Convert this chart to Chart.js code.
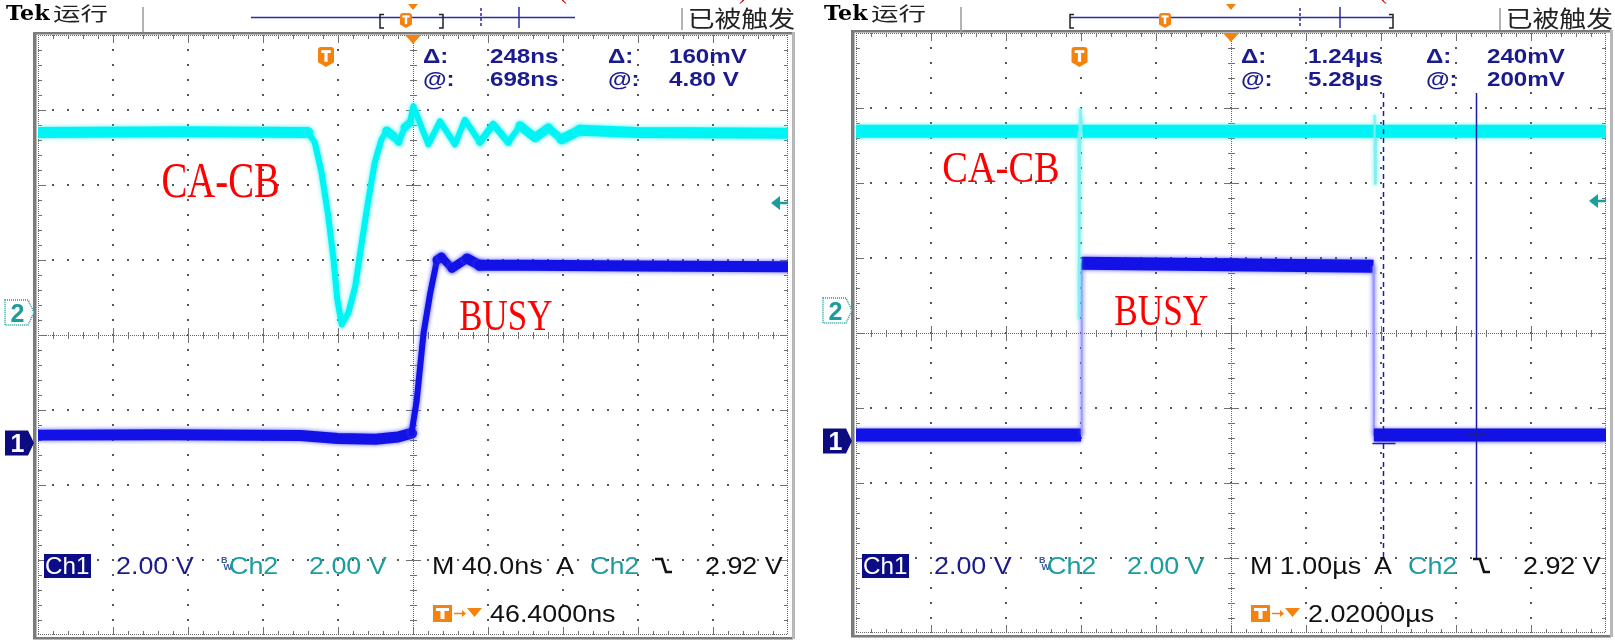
<!DOCTYPE html>
<html>
<head>
<meta charset="utf-8">
<script src="https://cdn.jsdelivr.net/npm/chart.js@4.4.1/dist/chart.umd.min.js"></script>
<style>
  html, body { margin: 0; padding: 0; background: #fff; width: 1615px; height: 641px; overflow: hidden; }
  .panel { position: absolute; top: 0; height: 641px; }
  #left { left: 0; width: 808px; }
  #right { left: 818px; width: 797px; }
</style>
</head>
<body>
<div class="panel" id="left"><canvas id="scopeA" width="808" height="641"></canvas></div>
<div class="panel" id="right"><canvas id="scopeB" width="797" height="641"></canvas></div>
<script>
// ---- values read off the two captures ----
// left capture: time in ns (0 = screen centre), 40 ns/div, volts per channel
const timeA_cacb = [-200, -120, -56, -52.4, -48.8, -45.2, -42.4, -40.4, -38, -34.4, -30.8, -27.6, -24, -20.4, -16.8, -14, -10.4, -7.6, -4.4, -1.6, 0.2, 8.2, 14.4, 22.4, 27.7, 35.7, 42.8, 50.8, 57.1, 65.1, 72.2, 79.3, 89, 120, 200];
const voltA_cacb = [4.80, 4.82, 4.80, 4.54, 3.74, 2.58, 1.42, 0.36, -0.32, 0.00, 0.70, 1.78, 2.94, 4.00, 4.62, 4.84, 4.70, 4.54, 4.94, 5.06, 5.50, 4.48, 5.10, 4.48, 5.14, 4.54, 5.02, 4.54, 4.98, 4.66, 4.92, 4.62, 4.86, 4.80, 4.78];
const timeA_busy = [-200, -130, -60, -40, -20, -8, -0.8, 2.0, 5.6, 9.2, 12.8, 15.2, 20.8, 28.8, 35.6, 60, 120, 200];
const voltA_busy = [0.21, 0.22, 0.20, 0.12, 0.10, 0.16, 0.26, 1.14, 2.92, 4.00, 4.88, 4.96, 4.66, 4.92, 4.74, 4.74, 4.72, 4.70];

// right capture: time in µs (0 = screen centre), 1 µs/div
const timeB_cacb = [-5, -2.05, -2.03, -2.025, -2.01, -1.98, 1.91, 1.915, 1.92, 1.93, 5];
const voltB_cacb = [4.78, 4.78, 4.78, -0.22, 5.38, 4.78, 4.78, 5.20, 3.38, 4.78, 4.78];
const timeB_busy = [-5, -2.0, -1.99, 1.90, 1.905, 5];
const voltB_busy = [0.16, 0.16, 4.74, 4.66, 0.16, 0.16];

// screen settings
const voltsPerDiv = 2;
const ch1Ground = -1.44;   // divisions from centre
const ch2Ground = 0.30;
const trigLevel = 2.92;    // V on Ch2
const trigTimeA = -46.4;   // ns
const trigTimeB = -2.02;   // µs
const cursorB = [4.04, 5.28];      // µs after trigger
const cursorLevelB = [-0.04, 0.20]; // V on Ch1

const readoutA = [['Δ:', '248ns', 'Δ:', '160mV'], ['@:', '698ns', '@:', '4.80 V']];
const readoutB = [['Δ:', '1.24µs', 'Δ:', '240mV'], ['@:', '5.28µs', '@:', '200mV']];

const NAVY = '#1b1b8e', TEAL = '#1c9d9d', ORANGE = '#f5820f', GRID = '#555';

function fitText(ctx, s, x0, x1, base, font, color) {
  ctx.save();
  ctx.font = font; ctx.fillStyle = color; ctx.textAlign = 'left'; ctx.textBaseline = 'alphabetic';
  const m = ctx.measureText(s);
  const sx = (x1 - x0) / (m.actualBoundingBoxLeft + m.actualBoundingBoxRight);
  ctx.translate(x0 + m.actualBoundingBoxLeft * sx, base);
  ctx.scale(sx, 1);
  ctx.fillText(s, 0, 0);
  ctx.restore();
}

function text(ctx, s, x, base, font, color, sx) {
  ctx.save();
  ctx.font = font; ctx.fillStyle = color; ctx.textAlign = 'left'; ctx.textBaseline = 'alphabetic';
  ctx.translate(x, base);
  ctx.scale(sx || 1, 1);
  ctx.fillText(s, 0, 0);
  ctx.restore();
}

function seg(ctx, x0, y0, x1, y1) {
  ctx.beginPath(); ctx.moveTo(x0, y0); ctx.lineTo(x1, y1); ctx.stroke();
}

function tShield(ctx, cx, top, w, h) {
  const l = cx - w / 2, r = cx + w / 2, mid = top + h * 0.76;
  ctx.fillStyle = ORANGE;
  ctx.beginPath();
  ctx.moveTo(l, top + 3);
  ctx.quadraticCurveTo(l, top, l + 3, top);
  ctx.lineTo(r - 3, top);
  ctx.quadraticCurveTo(r, top, r, top + 3);
  ctx.lineTo(r, mid); ctx.lineTo(cx, top + h); ctx.lineTo(l, mid);
  ctx.closePath(); ctx.fill();
  ctx.fillStyle = '#fff';
  ctx.fillRect(cx - w * 0.3, top + h * 0.16, w * 0.6, h * 0.14);
  ctx.fillRect(cx - w * 0.1, top + h * 0.16, w * 0.2, h * 0.58);
}

function graticule(chart) {
  const { ctx, chartArea: a, scales: { x, ch1 } } = chart;
  const gx = i => Math.round(x.getPixelForValue(x.min + i * (x.max - x.min) / 50));
  const gy = j => Math.round(ch1.getPixelForValue(ch1.max - j * (ch1.max - ch1.min) / 40));
  const L = gx(0), R = gx(50), T = gy(0), B = gy(40), cx = gx(25), cy = gy(20);
  ctx.save();
  // bezel
  ctx.fillStyle = '#7b7b7b';
  ctx.fillRect(L - 5, T - 3, 3.5, B - T + 7);
  ctx.fillRect(L - 5, T - 3, R - L + 10, 2.5);
  ctx.fillRect(L - 5, B + 2, R - L + 10, 2.5);
  ctx.fillStyle = '#b8b8b8';
  ctx.fillRect(R + 4, T - 3, 3, B - T + 7);
  // dots on the major lines
  ctx.fillStyle = GRID;
  for (let i = 5; i < 50; i += 5) if (i !== 25) for (let j = 1; j < 40; j++) ctx.fillRect(gx(i) - 1, gy(j) - 1, 2, 2);
  for (let j = 5; j < 40; j += 5) if (j !== 20) for (let i = 1; i < 50; i++) ctx.fillRect(gx(i) - 1, gy(j) - 1, 2, 2);
  // fine dotted centre cross and edges
  ctx.strokeStyle = '#666'; ctx.lineWidth = 1; ctx.setLineDash([1, 1]);
  seg(ctx, L, cy + 0.5, R, cy + 0.5);
  seg(ctx, cx + 0.5, T, cx + 0.5, B);
  seg(ctx, L, T + 0.5, R, T + 0.5);
  seg(ctx, L, B - 0.5, R, B - 0.5);
  seg(ctx, L + 0.5, T, L + 0.5, B);
  seg(ctx, R - 0.5, T, R - 0.5, B);
  ctx.setLineDash([]);
  ctx.strokeStyle = '#707070';
  for (let i = 1; i < 50; i++) {
    const p = gx(i) + 0.5, k = i % 5 === 0 ? 7 : 3;
    seg(ctx, p, cy - k, p, cy + k + 1);
    seg(ctx, p, T, p, T + k + 1);
    seg(ctx, p, B - k - 1, p, B);
  }
  for (let j = 1; j < 40; j++) {
    const p = gy(j) + 0.5, k = j % 5 === 0 ? 7 : 3;
    seg(ctx, cx - k, p, cx + k + 1, p);
    seg(ctx, L, p, L + k + 1, p);
    seg(ctx, R - k - 1, p, R, p);
  }
  ctx.restore();
}

function makeScope(cfg) {
  const band = (t, v, axis, color, glow, edge, w) => ({
    data: t.map((ti, i) => ({ x: ti, y: v[i] })),
    yAxisID: axis,
    borderColor: color,
    borderWidth: w,
    borderCapStyle: cfg.cap,
    borderJoinStyle: 'round',
    pointRadius: 0,
    tension: 0,
    clip: 0,
    glow: glow,
    segment: {
      // noise is vertical, so a steep edge looks thin
      borderWidth: c => {
        const dx = Math.abs(c.p1.x - c.p0.x), dy = Math.abs(c.p1.y - c.p0.y);
        return Math.round(Math.max(cfg.minW, w * dx / (Math.hypot(dx, dy) || 1)));
      },
      borderColor: c => {
        const dx = Math.abs(c.p1.x - c.p0.x), dy = Math.abs(c.p1.y - c.p0.y);
        return cfg.lightEdges && dy > 8 * dx ? edge : color;
      }
    }
  });

  const deco = {
    id: 'scopeDeco',
    beforeDatasetsDraw(chart) { graticule(chart); },
    beforeDatasetDraw(chart, args) {
      const ctx = chart.ctx;
      ctx.save();
      ctx.shadowColor = chart.data.datasets[args.index].glow;
      ctx.shadowBlur = 4;
    },
    afterDatasetDraw(chart) { chart.ctx.restore(); },
    afterDatasetsDraw(chart) {
      const { ctx, chartArea: a, scales: { x, ch1, ch2 } } = chart;
      const divX = d => x.getPixelForValue(x.min + d * (x.max - x.min) / 10);
      const divY = d => ch1.getPixelForValue(ch1.max - d * (ch1.max - ch1.min) / 8);
      ctx.save();

      // ---- header ----
      fitText(ctx, 'Tek', 6, 50, 20, 'bold 21px "DejaVu Serif"', '#000');
      fitText(ctx, '运行', 53, 108, 20.5, '19px "Noto Sans CJK SC"', '#222');
      ctx.strokeStyle = '#9a9a9a'; ctx.lineWidth = 1.5;
      seg(ctx, 143, 7, 143, 32);
      seg(ctx, 682, 8, 682, 30);
      fitText(ctx, '已被触发', 690, 795, 26.5, '23px "Noto Sans CJK SC"', '#222');
      const bar = cfg.bar;
      ctx.strokeStyle = '#2a2aa6'; ctx.lineWidth = 1.5;
      seg(ctx, bar.line[0], 17.5, bar.line[1], 17.5);
      ctx.strokeStyle = '#222'; ctx.lineWidth = 1.5;
      ctx.beginPath(); ctx.moveTo(bar.br[0] + 4, 14.5); ctx.lineTo(bar.br[0], 14.5); ctx.lineTo(bar.br[0], 28); ctx.lineTo(bar.br[0] + 4, 28); ctx.stroke();
      ctx.beginPath(); ctx.moveTo(bar.br[1] - 4, 14.5); ctx.lineTo(bar.br[1], 14.5); ctx.lineTo(bar.br[1], 28); ctx.lineTo(bar.br[1] - 4, 28); ctx.stroke();
      ctx.strokeStyle = '#2a2aa6'; ctx.lineWidth = 1.5;
      ctx.setLineDash([3, 2]); seg(ctx, bar.dashed, 8, bar.dashed, 27); ctx.setLineDash([]);
      seg(ctx, bar.solid, 7, bar.solid, 28);
      tShield(ctx, bar.t, 13, 12, 15);
      ctx.fillStyle = ORANGE;
      ctx.beginPath(); ctx.moveTo(bar.centre - 5, 4); ctx.lineTo(bar.centre + 5, 4); ctx.lineTo(bar.centre, 10); ctx.closePath(); ctx.fill();
      ctx.font = '24px "Liberation Serif"'; ctx.fillStyle = '#d00';
      for (const r of cfg.red) ctx.fillText(r[0], r[1], -1);

      // trigger position on the graticule
      const cX = divX(5);
      ctx.fillStyle = ORANGE;
      ctx.beginPath(); ctx.moveTo(cX - 8, a.top); ctx.lineTo(cX + 8, a.top); ctx.lineTo(cX, a.top + 9); ctx.closePath(); ctx.fill();
      tShield(ctx, x.getPixelForValue(cfg.trig), 47, 16, 20);

      // cursors
      if (cfg.cursors) {
        ctx.strokeStyle = '#1c1ca0'; ctx.lineWidth = 1.5;
        cfg.cursors.forEach((c, k) => {
          const px = Math.round(x.getPixelForValue(cfg.trig + c)) + 0.5;
          ctx.setLineDash(k === 0 ? [5, 4] : []);
          seg(ctx, px, 93, px, 558);
          ctx.setLineDash([]);
          const py = Math.round(ch1.getPixelForValue(cfg.cursorLevels[k])) + 0.5;
          seg(ctx, px - 11, py, px + 12, py);
        });
      }

      // readouts
      readoutFor(ctx, cfg.readout);

      // channel markers
      const m1 = ch1.getPixelForValue(0), m2 = ch2.getPixelForValue(0);
      const marker = (y, label, filled) => {
        const l = a.left - 33, r = a.left - 10, tip = a.left - 4;
        ctx.beginPath();
        ctx.moveTo(l, y - 12.5); ctx.lineTo(r, y - 12.5); ctx.lineTo(tip, y); ctx.lineTo(r, y + 12.5); ctx.lineTo(l, y + 12.5); ctx.closePath();
        if (filled) { ctx.fillStyle = '#0c0c80'; ctx.fill(); }
        else { ctx.fillStyle = '#fff'; ctx.fill(); ctx.strokeStyle = TEAL; ctx.lineWidth = 1.5; ctx.setLineDash([1, 1]); ctx.stroke(); ctx.setLineDash([]); }
        ctx.font = 'bold 25px "Liberation Sans"'; ctx.textAlign = 'center'; ctx.textBaseline = 'alphabetic';
        ctx.fillStyle = filled ? '#fff' : TEAL;
        ctx.fillText(label, (l + r) / 2 + 1, y + 9);
        ctx.textAlign = 'left';
      };
      marker(m2, '2', false);
      marker(m1, '1', true);

      // trigger level arrow
      const ty = ch2.getPixelForValue(trigLevel);
      ctx.fillStyle = TEAL; ctx.strokeStyle = TEAL; ctx.lineWidth = 2.5;
      ctx.beginPath(); ctx.moveTo(a.right - 17, ty); ctx.lineTo(a.right - 8, ty - 7); ctx.lineTo(a.right - 8, ty + 7); ctx.closePath(); ctx.fill();
      seg(ctx, a.right - 9, ty, a.right, ty);

      // labels added on the captures
      for (const lb of cfg.labels) {
        fitText(ctx, lb.s, divX(lb.x0), divX(lb.x1), divY(lb.base), lb.size + 'px "Liberation Serif"', '#ff0000');
      }

      // bottom status lines
      const b1 = 573.5, b2 = 621.5, f = '24px "Liberation Sans"', sx = 1.12;
      ctx.fillStyle = '#0c0c86'; ctx.fillRect(44, 554, 47, 24);
      fitText(ctx, 'Ch1', 46, 89, b1, f, '#fff');
      text(ctx, '2.00 V', 116, b1, f, NAVY, sx);
      text(ctx, 'B', 221, 563, 'bold 9px "Liberation Sans"', '#3a5a9a');
      text(ctx, 'W', 223.5, 570, 'bold 9px "Liberation Sans"', '#3a5a9a');
      text(ctx, 'Ch2', 229, b1, f, TEAL, sx);
      text(ctx, '2.00 V', 309, b1, f, TEAL, sx);
      text(ctx, cfg.timebase, 432, b1, f, '#111', sx);
      text(ctx, 'A', 556, b1, f, '#111', sx);
      text(ctx, 'Ch2', 590, b1, f, TEAL, sx);
      ctx.strokeStyle = '#111'; ctx.lineWidth = 2.6; ctx.lineJoin = 'miter';
      ctx.beginPath(); ctx.moveTo(655, 559); ctx.lineTo(662, 559); ctx.lineTo(666, 572); ctx.lineTo(672, 572); ctx.stroke();
      text(ctx, trigLevel.toFixed(2) + ' V', 705, b1, f, '#111', sx);
      ctx.fillStyle = ORANGE;
      ctx.fillRect(433, 605, 19, 17);
      ctx.fillStyle = '#fff';
      ctx.fillRect(436, 608, 13, 3); ctx.fillRect(440.5, 608, 4, 11);
      ctx.strokeStyle = ORANGE; ctx.lineWidth = 1.5;
      seg(ctx, 454, 613.5, 463, 613.5);
      ctx.fillStyle = ORANGE;
      ctx.beginPath(); ctx.moveTo(462, 610); ctx.lineTo(466, 613.5); ctx.lineTo(462, 617); ctx.closePath(); ctx.fill();
      ctx.beginPath(); ctx.moveTo(467, 608); ctx.lineTo(482, 608); ctx.lineTo(474.5, 617); ctx.closePath(); ctx.fill();
      text(ctx, cfg.delay, 490, b2, f, '#111', sx);
      ctx.restore();
    }
  };

  function readoutFor(ctx, rows) {
    const f = 'bold 21px "Liberation Sans"', cols = [423, 490, 608, 669];
    rows.forEach((row, r) => row.forEach((s, c) => text(ctx, s, cols[c], 63 + r * 23, f, NAVY, 1.15)));
  }

  const ch1Min = (-4 - ch1Ground) * voltsPerDiv, ch1Max = (4 - ch1Ground) * voltsPerDiv;
  const ch2Min = (-4 - ch2Ground) * voltsPerDiv, ch2Max = (4 - ch2Ground) * voltsPerDiv;

  return new Chart(document.getElementById(cfg.canvas), {
    type: 'line',
    data: {
      datasets: [
        band(cfg.cacb[0], cfg.cacb[1], 'ch2', '#00f4f4', 'rgba(60,240,240,0.9)', '#86eeee', cfg.bandW),
        band(cfg.busy[0], cfg.busy[1], 'ch1', '#1212e6', 'rgba(70,70,255,0.9)', '#9a9aff', cfg.bandW)
      ]
    },
    options: {
      responsive: false,
      animation: false,
      devicePixelRatio: 1,
      events: [],
      layout: { padding: cfg.pad },
      scales: {
        x: { type: 'linear', min: cfg.range[0], max: cfg.range[1], display: false },
        ch1: { type: 'linear', min: ch1Min, max: ch1Max, display: false },
        ch2: { type: 'linear', min: ch2Min, max: ch2Max, display: false }
      },
      plugins: { legend: { display: false }, tooltip: { enabled: false } }
    },
    plugins: [deco]
  });
}

makeScope({
  canvas: 'scopeA',
  pad: { left: 38, right: 20, top: 35, bottom: 6 },
  range: [-200, 200],
  cacb: [timeA_cacb, voltA_cacb],
  busy: [timeA_busy, voltA_busy],
  bandW: 11, minW: 6, cap: 'round', lightEdges: false,
  trig: trigTimeA,
  readout: readoutA,
  timebase: 'M 40.0ns',
  delay: '46.4000ns',
  bar: { line: [251, 575], br: [380, 443], t: 406, centre: 413, dashed: 481, solid: 519 },
  red: [['(', 559], [')', 739]],
  labels: [
    { s: 'CA-CB', x0: 1.667, x1: 3.2, base: 2.16, size: 50 },
    { s: 'BUSY', x0: 5.627, x1: 6.853, base: 3.933, size: 45 }
  ]
});

makeScope({
  canvas: 'scopeB',
  pad: { left: 38, right: 9, top: 33, bottom: 8 },
  range: [-5, 5],
  cacb: [timeB_cacb, voltB_cacb],
  busy: [timeB_busy, voltB_busy],
  bandW: 13, minW: 1.5, cap: 'butt', lightEdges: true,
  trig: trigTimeB,
  cursors: cursorB,
  cursorLevels: cursorLevelB,
  readout: readoutB,
  timebase: 'M 1.00µs',
  delay: '2.02000µs',
  bar: { line: [252, 575], br: [252, 575], t: 347, centre: 413, dashed: 482, solid: 522 },
  red: [['(', 561]],
  labels: [
    { s: 'CA-CB', x0: 1.16, x1: 2.693, base: 1.983, size: 45 },
    { s: 'BUSY', x0: 3.453, x1: 4.693, base: 3.889, size: 45 }
  ]
});
</script>
</body>
</html>
